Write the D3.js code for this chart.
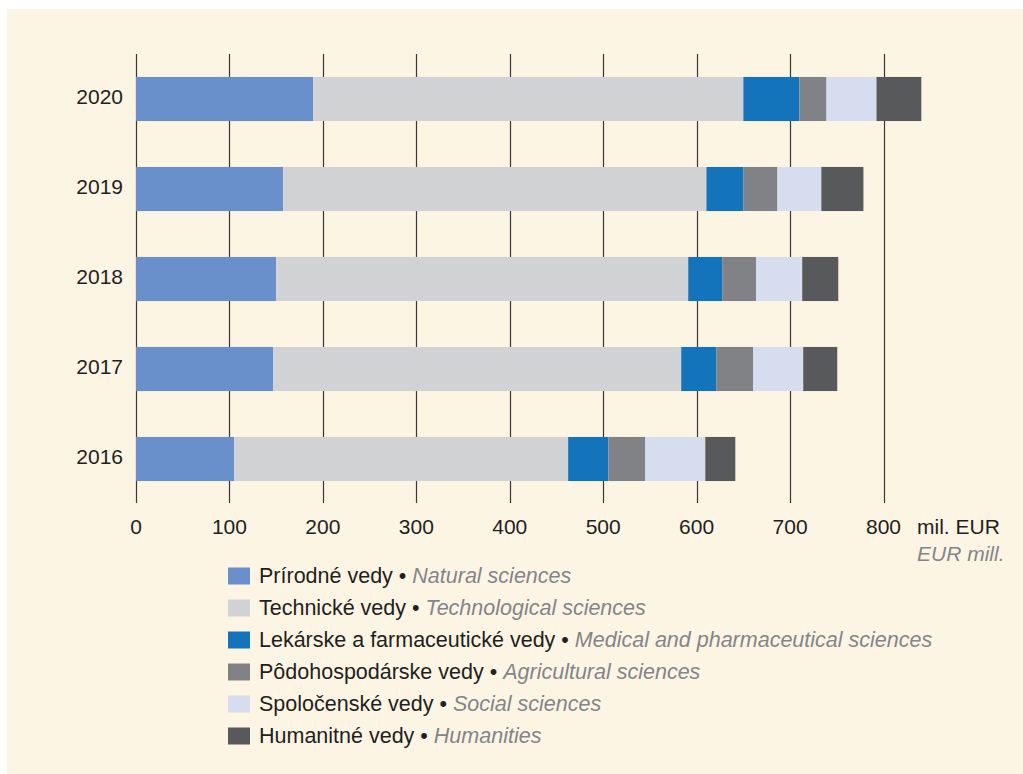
<!DOCTYPE html>
<html>
<head>
<meta charset="utf-8">
<script src="https://cdn.jsdelivr.net/npm/d3@7"></script>
<style>
  body { margin: 0; background: #ffffff; }
  svg { display: block; font-family: "Liberation Sans", Arial, sans-serif; }
</style>
</head>
<body>
<svg id="chart" width="1023" height="774"></svg>
<script>
// data (mil. EUR)
var years = ["2020", "2019", "2018", "2017", "2016"];
var keys = ["natural", "technical", "medical", "agricultural", "social", "humanities"];
var natural      = [189.5, 157.5, 150.0, 146.7, 105.0];
var technical    = [460.5, 453.0, 441.0, 436.8, 357.5];
var medical      = [ 60.0,  39.7,  36.4,  37.5,  43.0];
var agricultural = [ 29.0,  36.3,  36.4,  39.6,  39.6];
var social       = [ 53.5,  47.0,  49.2,  53.5,  64.2];
var humanities   = [ 48.0,  45.0,  38.6,  36.4,  32.1];
var ticks = [0, 100, 200, 300, 400, 500, 600, 700, 800];
var namesSk = ["Prírodné vedy", "Technické vedy", "Lekárske a farmaceutické vedy",
               "Pôdohospodárske vedy", "Spoločenské vedy", "Humanitné vedy"];
var namesEn = ["Natural sciences", "Technological sciences", "Medical and pharmaceutical sciences",
               "Agricultural sciences", "Social sciences", "Humanities"];
var colors = ["#6a90cb", "#d1d2d4", "#1474bb", "#818286", "#d5ddef", "#58595b"];

var series = [natural, technical, medical, agricultural, social, humanities];
var rows = years.map(function(y, i){
    var r = {year: y};
    keys.forEach(function(k, j){ r[k] = series[j][i]; });
    return r;
});

var svg = d3.select("#chart");

// background panel
svg.append("rect")
    .attr("x", 7).attr("y", 9)
    .attr("width", 1016).attr("height", 765)
    .attr("fill", "#fdf5e4");

var x = d3.scaleLinear().domain([0, 800]).range([136, 883.5]);
var y = d3.scaleBand().domain(years).range([54, 504]).paddingInner(0.51).paddingOuter(0.255);
var color = d3.scaleOrdinal().domain(keys).range(colors);

// grid lines (bars go on top, so they only show in the gaps)
var grid = svg.append("g");
ticks.forEach(function(t){
    var px = Math.round(x(t)) + 0.5;
    grid.append("line")
        .attr("x1", px).attr("x2", px)
        .attr("y1", 54).attr("y2", 503)
        .attr("stroke", "#3b3535")
        .attr("stroke-width", 1.2);
});

// bars
var stack = d3.stack().keys(keys)(rows);
svg.append("g").selectAll("g").data(stack).enter().append("g")
    .attr("fill", function(d){ return color(d.key); })
    .selectAll("rect").data(function(d){ return d; }).enter().append("rect")
    .attr("x", function(d){ return x(d[0]); })
    .attr("y", function(d){ return y(d.data.year); })
    .attr("width", function(d){ return x(d[1]) - x(d[0]); })
    .attr("height", y.bandwidth());

// tick labels
svg.append("g").selectAll("text").data(ticks).enter().append("text")
    .attr("x", function(d){ return x(d); })
    .attr("y", 534)
    .attr("text-anchor", "middle")
    .attr("font-size", 21)
    .attr("fill", "#231f20")
    .text(function(d){ return d; });

// year labels
svg.append("g").selectAll("text").data(years).enter().append("text")
    .attr("x", 123)
    .attr("y", function(d){ return y(d) + y.bandwidth()/2 + 5; })
    .attr("text-anchor", "end")
    .attr("font-size", 21)
    .attr("fill", "#231f20")
    .text(function(d){ return d; });

// unit
svg.append("text").attr("x", 917).attr("y", 534)
    .attr("font-size", 21).attr("fill", "#231f20").text("mil. EUR");
svg.append("text").attr("x", 917).attr("y", 561)
    .attr("font-size", 21).attr("font-style", "italic").attr("fill", "#848589").text("EUR mill.");

// legend
var legend = svg.append("g").selectAll("g").data(keys).enter().append("g")
    .attr("transform", function(d, i){ return "translate(228," + (576 + i*32) + ")"; });
legend.append("rect")
    .attr("x", 0).attr("y", -8.5)
    .attr("width", 22).attr("height", 17)
    .attr("fill", function(d){ return color(d); });
var lt = legend.append("text")
    .attr("x", 31).attr("y", 7)
    .attr("font-size", 21.5);
lt.append("tspan").attr("fill", "#231f20")
    .text(function(d, i){ return namesSk[i] + " \u2022 "; });
lt.append("tspan").attr("fill", "#848589").attr("font-style", "italic")
    .text(function(d, i){ return namesEn[i]; });
</script>
</body>
</html>
